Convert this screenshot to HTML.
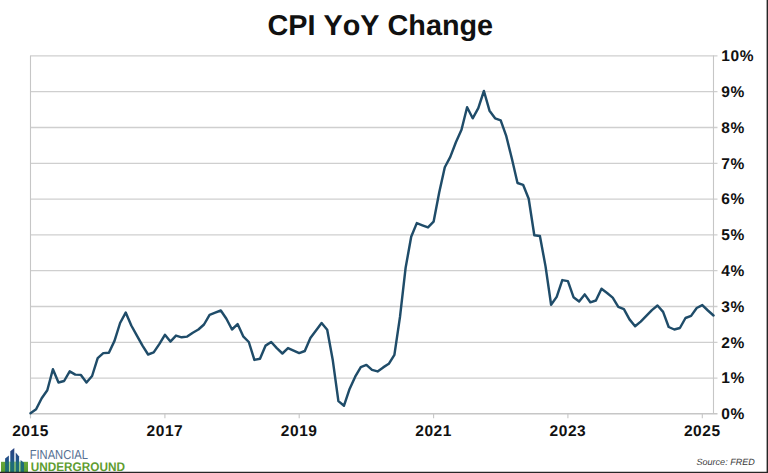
<!DOCTYPE html>
<html lang="en"><head><meta charset="utf-8"><title>CPI YoY Change</title>
<style>
html,body{margin:0;padding:0;background:#fff;}
body{width:768px;height:473px;overflow:hidden;position:relative;font-family:"Liberation Sans",sans-serif;}
svg{position:absolute;left:0;top:0;display:block;text-rendering:geometricPrecision}
.t{font:bold 28.8px "Liberation Sans",sans-serif;fill:#111;font-kerning:none}
.ax text{font:bold 15.5px "Liberation Sans",sans-serif;fill:#111;letter-spacing:0.55px;font-kerning:none}
.src{font:italic 9.05px "Liberation Sans",sans-serif;fill:#3a3a3a}
.fin{font:13px "Liberation Sans",sans-serif;fill:#566f92}
.und{font:bold 12.4px "Liberation Sans",sans-serif;fill:#5f9d31}
</style></head><body>
<svg width="768" height="473" viewBox="0 0 768 473">
<rect width="768" height="473" fill="#fff"/>
<text class="t" x="380.3" y="34.5" text-anchor="middle">CPI YoY Change</text>
<g stroke="#cfcfcf" stroke-width="1.3" fill="none"><line x1="30.5" x2="717.5" y1="378.1" y2="378.1"/><line x1="30.5" x2="717.5" y1="342.3" y2="342.3"/><line x1="30.5" x2="717.5" y1="306.5" y2="306.5"/><line x1="30.5" x2="717.5" y1="270.7" y2="270.7"/><line x1="30.5" x2="717.5" y1="234.9" y2="234.9"/><line x1="30.5" x2="717.5" y1="199.1" y2="199.1"/><line x1="30.5" x2="717.5" y1="163.3" y2="163.3"/><line x1="30.5" x2="717.5" y1="127.5" y2="127.5"/><line x1="30.5" x2="717.5" y1="91.7" y2="91.7"/><line x1="30.5" x2="717.5" y1="55.9" y2="55.9"/></g>
<g stroke="#c6c6c6" stroke-width="1.1" fill="none">
<line x1="30.5" x2="30.5" y1="55.6" y2="418.2"/>
<line x1="713.5" x2="713.5" y1="55.6" y2="413.6"/>
<line x1="30.5" x2="717.5" y1="413.8" y2="413.8" stroke-width="1.4"/>
<line x1="30.5" x2="30.5" y1="413.6" y2="418.2"/><line x1="164.9" x2="164.9" y1="413.6" y2="418.2"/><line x1="299.2" x2="299.2" y1="413.6" y2="418.2"/><line x1="433.6" x2="433.6" y1="413.6" y2="418.2"/><line x1="567.9" x2="567.9" y1="413.6" y2="418.2"/><line x1="702.3" x2="702.3" y1="413.6" y2="418.2"/></g>
<polyline points="30.5,413.2 36.1,409.3 41.7,398.2 47.3,390.3 52.9,369.2 58.5,382.5 64.1,381.0 69.7,371.4 75.3,374.6 80.9,374.9 86.5,382.5 92.1,376.0 97.7,358.1 103.3,353.1 108.9,352.7 114.5,340.9 120.1,323.0 125.7,312.6 131.3,325.5 136.9,335.6 142.5,345.6 148.1,354.5 153.7,352.4 159.3,344.1 164.9,334.8 170.4,341.6 176.0,335.6 181.6,337.3 187.2,336.6 192.8,332.7 198.4,329.5 204.0,324.5 209.6,314.8 215.2,312.6 220.8,310.5 226.4,318.7 232.0,329.5 237.6,324.1 243.2,336.3 248.8,342.0 254.4,359.9 260.0,358.8 265.6,345.6 271.2,342.0 276.8,348.1 282.4,353.5 288.0,348.1 293.6,350.6 299.2,353.1 304.8,351.0 310.4,338.1 316.0,330.5 321.6,323.0 327.2,329.8 332.8,360.3 338.4,401.1 344.0,405.7 349.6,388.9 355.2,376.7 360.8,367.1 366.4,364.9 372.0,369.9 377.6,371.4 383.2,367.4 388.8,363.8 394.4,354.9 400.0,316.9 405.6,267.9 411.2,236.7 416.8,223.1 422.4,225.3 428.0,227.4 433.6,221.7 439.2,192.4 444.8,167.3 450.3,156.9 455.9,142.2 461.5,129.7 467.1,107.2 472.7,118.3 478.3,108.2 483.9,91.0 489.5,110.7 495.1,118.3 500.7,120.4 506.3,136.2 511.9,158.7 517.5,183.0 523.1,184.8 528.7,198.8 534.3,235.3 539.9,236.0 545.5,266.1 551.1,304.8 556.7,296.9 562.3,280.1 567.9,281.1 573.5,297.2 579.1,301.5 584.7,294.4 590.3,302.3 595.9,300.5 601.5,288.7 607.1,293.0 612.7,297.6 618.3,306.9 623.9,309.1 629.5,319.4 635.1,326.2 640.7,321.6 646.3,315.9 651.9,310.1 657.5,305.5 663.1,311.9 668.7,327.0 674.3,329.5 679.9,328.0 685.5,318.0 691.1,315.9 696.7,308.0 702.3,305.1 707.9,310.5 713.5,315.5" fill="none" stroke="#1f4c69" stroke-width="2.45" stroke-linejoin="round" stroke-linecap="round"/>
<g class="ax"><text x="30.5" y="435.5" text-anchor="middle">2015</text><text x="164.9" y="435.5" text-anchor="middle">2017</text><text x="299.2" y="435.5" text-anchor="middle">2019</text><text x="433.6" y="435.5" text-anchor="middle">2021</text><text x="567.9" y="435.5" text-anchor="middle">2023</text><text x="702.3" y="435.5" text-anchor="middle">2025</text><text x="721.3" y="419.2">0%</text><text x="721.3" y="383.4">1%</text><text x="721.3" y="347.6">2%</text><text x="721.3" y="311.8">3%</text><text x="721.3" y="276.0">4%</text><text x="721.3" y="240.2">5%</text><text x="721.3" y="204.4">6%</text><text x="721.3" y="168.6">7%</text><text x="721.3" y="132.8">8%</text><text x="721.3" y="97.0">9%</text><text x="721.3" y="61.2">10%</text></g>
<text class="src" x="754.8" y="465" text-anchor="end">Source: FRED</text>
<!-- logo -->
<defs>
<linearGradient id="bg" gradientUnits="userSpaceOnUse" x1="0" y1="448" x2="0" y2="472"><stop offset="0" stop-color="#27407f"/><stop offset="0.5" stop-color="#23538a"/><stop offset="0.62" stop-color="#1e6a7c"/><stop offset="1" stop-color="#1f6f72"/></linearGradient>
<linearGradient id="gg" x1="0" y1="0" x2="0" y2="1"><stop offset="0" stop-color="#6aa93b"/><stop offset="1" stop-color="#559a2f"/></linearGradient>
</defs>
<rect x="1" y="461.8" width="27" height="10.4" fill="url(#gg)"/>
<g fill="#a9d88a"><rect x="8.9" y="461.8" width="1.4" height="10.4"/><rect x="14.3" y="461.8" width="1.4" height="10.4"/><rect x="19.1" y="461.8" width="1.5" height="10.4"/></g>
<polygon points="5.1,472 5.1,458.4 8.9,455.6 8.9,472" fill="url(#bg)"/>
<polygon points="10.3,472 10.3,451.2 14.3,447.9 14.3,472" fill="url(#bg)"/>
<polygon points="15.7,472 15.7,452.6 19.1,456.6 19.1,472" fill="url(#bg)"/>
<polygon points="20.6,472 20.6,460 24,462.8 24,472" fill="url(#bg)"/>
<text class="fin" x="29.7" y="459.1" textLength="58.3" lengthAdjust="spacingAndGlyphs">FINANCIAL</text>
<text class="und" x="30.7" y="470.5" textLength="94.3" lengthAdjust="spacingAndGlyphs">UNDERGROUND</text>
<rect x="0" y="471.75" width="768" height="1.25" fill="#262626"/>
<rect x="766.6" y="0" width="1.4" height="473" fill="#262626"/>
</svg>
</body></html>
